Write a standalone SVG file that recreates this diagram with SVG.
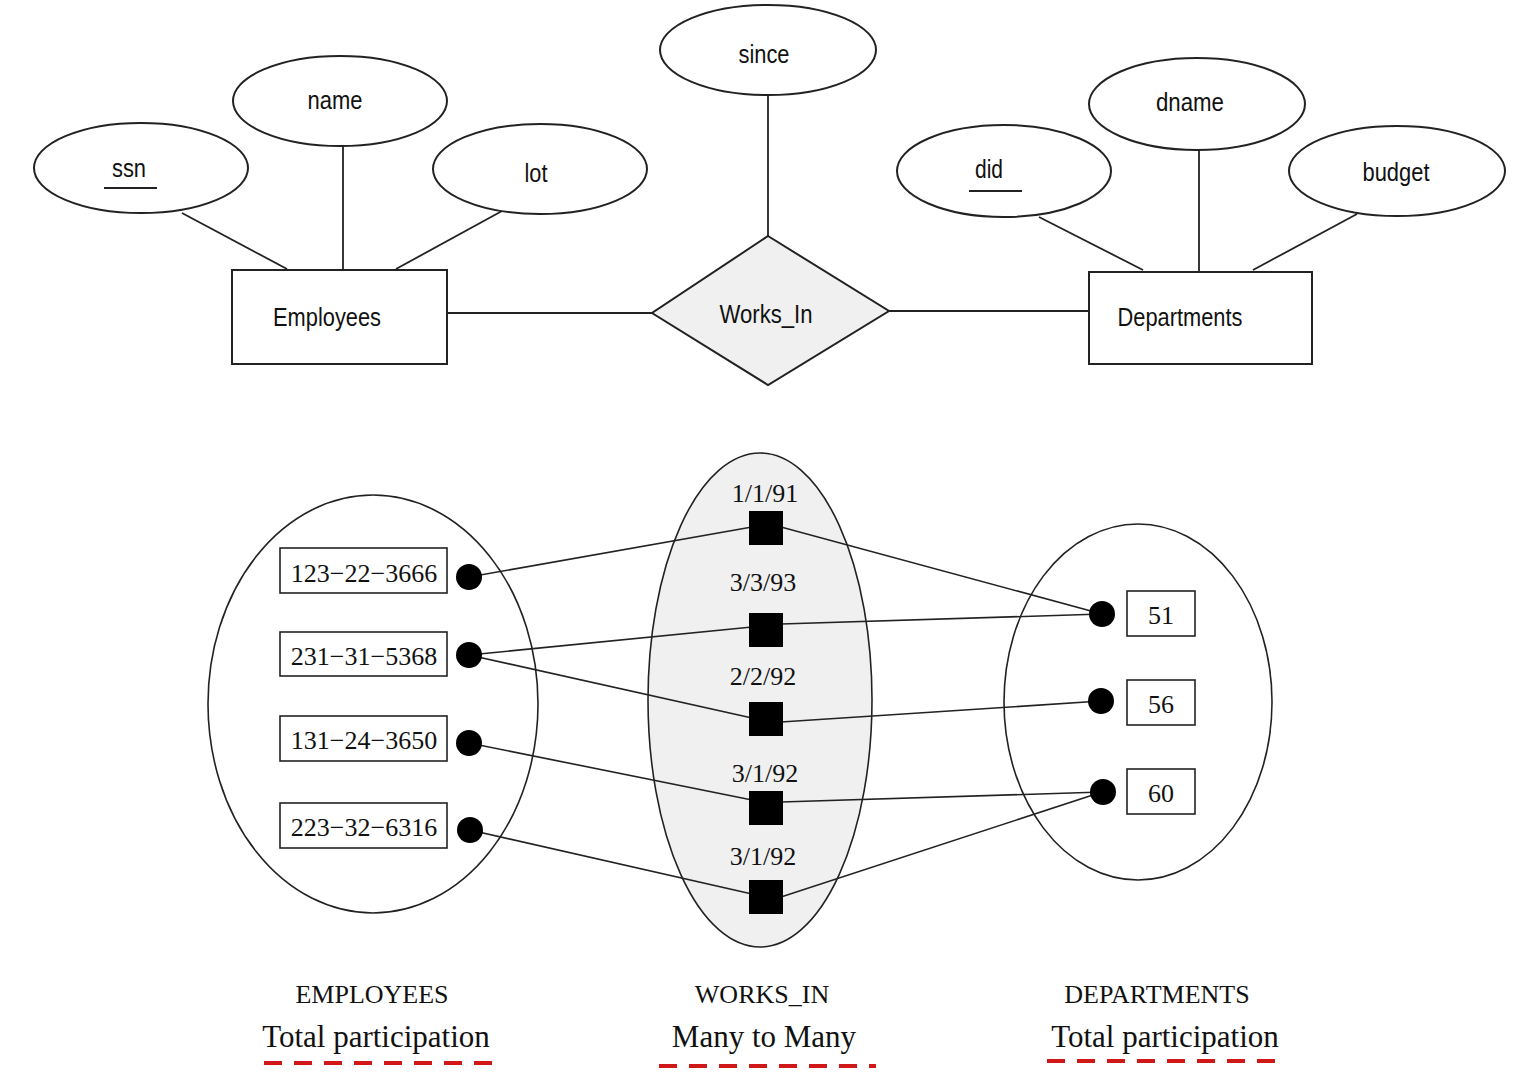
<svg xmlns="http://www.w3.org/2000/svg" width="1527" height="1091" viewBox="0 0 1527 1091">
<style>
.shape{fill:#fff;stroke:#222;stroke-width:2}
.rel{fill:#f0f0f0;stroke:#222;stroke-width:2}
.ln{stroke:#222;stroke-width:1.8;fill:none}
.lb{stroke:#222;stroke-width:1.6;fill:none}
.sans{font-family:"Liberation Sans",Arial,sans-serif;font-size:25px;fill:#111;text-anchor:middle}
.serif{font-family:"Liberation Serif","Times New Roman",serif;fill:#111;text-anchor:middle}
.v{font-size:26px}
.cap{font-size:26px}
.big{font-size:31px}
.dot{fill:#000}
.sq{fill:#000}
.box{fill:#fff;stroke:#222;stroke-width:1.6}
.dash{stroke:#d01818;stroke-width:4;stroke-dasharray:18 12;fill:none}
</style>
<rect width="1527" height="1091" fill="#fff"/>

<!-- ER diagram connectors -->
<g id="er-connectors">
<line class="ln" x1="182" y1="213" x2="287" y2="269"/>
<line class="ln" x1="343" y1="146" x2="343" y2="270"/>
<line class="ln" x1="502" y1="211" x2="396" y2="269"/>
<line class="ln" x1="448" y1="313" x2="652" y2="313"/>
<line class="ln" x1="768" y1="96" x2="768" y2="236"/>
<line class="ln" x1="889" y1="311" x2="1089" y2="311"/>
<line class="ln" x1="1039" y1="217" x2="1143" y2="270"/>
<line class="ln" x1="1199" y1="150" x2="1199" y2="272"/>
<line class="ln" x1="1357" y1="214" x2="1253" y2="270"/>
</g>

<g id="attr-ssn">
<ellipse class="shape" cx="141" cy="168" rx="107" ry="45"/>
<text class="sans" x="129" y="177" textLength="34" lengthAdjust="spacingAndGlyphs">ssn</text>
<line class="ln" x1="104" y1="188" x2="157" y2="188"/>
</g>
<g id="attr-name">
<ellipse class="shape" cx="340" cy="101" rx="107" ry="45"/>
<text class="sans" x="335" y="109" textLength="55" lengthAdjust="spacingAndGlyphs">name</text>
</g>
<g id="attr-lot">
<ellipse class="shape" cx="540" cy="169" rx="107" ry="45"/>
<text class="sans" x="536" y="182" textLength="23" lengthAdjust="spacingAndGlyphs">lot</text>
</g>
<g id="entity-employees">
<rect class="shape" x="232" y="270" width="215" height="94"/>
<text class="sans" x="327" y="326" textLength="108" lengthAdjust="spacingAndGlyphs">Employees</text>
</g>
<g id="attr-since">
<ellipse class="shape" cx="768" cy="50" rx="108" ry="45"/>
<text class="sans" x="764" y="63" textLength="51" lengthAdjust="spacingAndGlyphs">since</text>
</g>
<g id="rel-works-in">
<polygon class="rel" points="768,236 889,311 768,385 652,313"/>
<text class="sans" x="766" y="323" textLength="93" lengthAdjust="spacingAndGlyphs">Works_In</text>
</g>
<g id="entity-departments">
<rect class="shape" x="1089" y="272" width="223" height="92"/>
<text class="sans" x="1180" y="326" textLength="125" lengthAdjust="spacingAndGlyphs">Departments</text>
</g>
<g id="attr-did">
<ellipse class="shape" cx="1004" cy="171" rx="107" ry="46"/>
<text class="sans" x="989" y="178" textLength="28" lengthAdjust="spacingAndGlyphs">did</text>
<line class="ln" x1="969" y1="191" x2="1022" y2="191"/>
</g>
<g id="attr-dname">
<ellipse class="shape" cx="1197" cy="104" rx="108" ry="46"/>
<text class="sans" x="1190" y="111" textLength="68" lengthAdjust="spacingAndGlyphs">dname</text>
</g>
<g id="attr-budget">
<ellipse class="shape" cx="1397" cy="171" rx="108" ry="45"/>
<text class="sans" x="1396" y="181" textLength="67" lengthAdjust="spacingAndGlyphs">budget</text>
</g>

<!-- Instance diagram sets -->
<g id="set-employees">
<ellipse class="shape" cx="373" cy="704" rx="165" ry="209" style="stroke-width:1.6"/>
</g>
<g id="set-works-in">
<ellipse class="rel" cx="760" cy="700" rx="112" ry="247" style="stroke-width:1.6"/>
</g>
<g id="set-departments">
<ellipse class="shape" cx="1138" cy="702" rx="134" ry="178" style="stroke-width:1.6"/>
</g>

<!-- Instance connectors -->
<g id="instance-connectors">
<line class="lb" x1="469" y1="577" x2="752" y2="527"/>
<line class="lb" x1="781" y1="527" x2="1102" y2="614"/>
<line class="lb" x1="469" y1="655" x2="752" y2="627"/>
<line class="lb" x1="781" y1="624" x2="1102" y2="614"/>
<line class="lb" x1="469" y1="655" x2="752" y2="718"/>
<line class="lb" x1="781" y1="722" x2="1101" y2="701"/>
<line class="lb" x1="469" y1="743" x2="752" y2="800"/>
<line class="lb" x1="781" y1="802" x2="1102" y2="792"/>
<line class="lb" x1="470" y1="830" x2="752" y2="894"/>
<line class="lb" x1="781" y1="897" x2="1102" y2="792"/>
</g>

<g id="emp-1">
<rect class="box" x="280" y="548" width="167" height="45"/>
<text class="serif v" x="364" y="582">123−22−3666</text>
<circle class="dot" cx="469" cy="577" r="13"/>
</g>
<g id="emp-2">
<rect class="box" x="280" y="632" width="167" height="44"/>
<text class="serif v" x="364" y="665">231−31−5368</text>
<circle class="dot" cx="469" cy="655" r="13"/>
</g>
<g id="emp-3">
<rect class="box" x="280" y="716" width="167" height="45"/>
<text class="serif v" x="364" y="749">131−24−3650</text>
<circle class="dot" cx="469" cy="743" r="13"/>
</g>
<g id="emp-4">
<rect class="box" x="280" y="803" width="167" height="45"/>
<text class="serif v" x="364" y="836">223−32−6316</text>
<circle class="dot" cx="470" cy="830" r="13"/>
</g>

<g id="wi-1">
<text class="serif v" x="765" y="502">1/1/91</text>
<rect class="sq" x="749" y="511" width="34" height="34"/>
</g>
<g id="wi-2">
<text class="serif v" x="763" y="591">3/3/93</text>
<rect class="sq" x="749" y="613" width="34" height="34"/>
</g>
<g id="wi-3">
<text class="serif v" x="763" y="685">2/2/92</text>
<rect class="sq" x="749" y="702" width="34" height="34"/>
</g>
<g id="wi-4">
<text class="serif v" x="765" y="782">3/1/92</text>
<rect class="sq" x="749" y="791" width="34" height="34"/>
</g>
<g id="wi-5">
<text class="serif v" x="763" y="865">3/1/92</text>
<rect class="sq" x="749" y="880" width="34" height="34"/>
</g>

<g id="dept-51">
<circle class="dot" cx="1102" cy="614" r="13"/>
<rect class="box" x="1127" y="591" width="68" height="45"/>
<text class="serif v" x="1161" y="624">51</text>
</g>
<g id="dept-56">
<circle class="dot" cx="1101" cy="701" r="13"/>
<rect class="box" x="1127" y="680" width="68" height="45"/>
<text class="serif v" x="1161" y="713">56</text>
</g>
<g id="dept-60">
<circle class="dot" cx="1103" cy="792" r="13"/>
<rect class="box" x="1127" y="769" width="68" height="45"/>
<text class="serif v" x="1161" y="802">60</text>
</g>

<!-- Captions -->
<g id="caption-employees">
<text class="serif cap" x="372" y="1003">EMPLOYEES</text>
<text class="serif big" x="376" y="1047">Total participation</text>
<line class="dash" x1="264" y1="1063" x2="500" y2="1063"/>
</g>
<g id="caption-works-in">
<text class="serif cap" x="762" y="1003">WORKS_IN</text>
<text class="serif big" x="764" y="1047">Many to Many</text>
<line class="dash" x1="659" y1="1066" x2="876" y2="1066"/>
</g>
<g id="caption-departments">
<text class="serif cap" x="1157" y="1003">DEPARTMENTS</text>
<text class="serif big" x="1165" y="1047">Total participation</text>
<line class="dash" x1="1047" y1="1061" x2="1282" y2="1061"/>
</g>
</svg>
